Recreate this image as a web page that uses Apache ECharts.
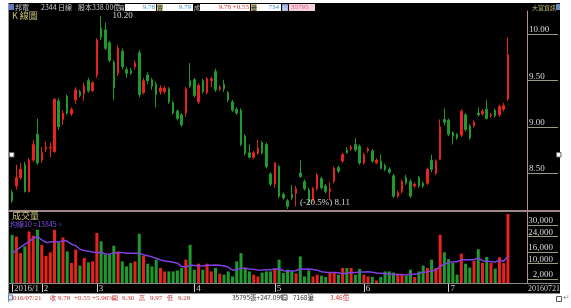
<!DOCTYPE html>
<html><head><meta charset="utf-8">
<script src="https://cdn.jsdelivr.net/npm/echarts@6/dist/echarts.min.js"></script>
<style>html,body{margin:0;padding:0;background:#fff}#c{width:571px;height:308px}</style>
</head><body><div id="c"></div>
<script>
// ---- data ----
const tradeDays = {
  '2016/01': [21,22,25,26,27,28,29],
  '2016/02': [1,2,3,15,16,17,18,19,22,23,24,25,26],
  '2016/03': [1,2,3,4,7,8,9,10,11,14,15,16,17,18,21,22,23,24,25,28,29,30,31],
  '2016/04': [1,6,7,8,11,12,13,14,15,18,19,20,21,22,25,26,27,28,29],
  '2016/05': [3,4,5,6,9,10,11,12,13,16,17,18,19,20,23,24,25,26,27,30,31],
  '2016/06': [1,2,3,6,7,8,13,14,15,16,17,20,21,22,23,24,27,28,29,30],
  '2016/07': [1,4,5,6,7,8,11,12,13,14,15,18,19,20,21]
};
const opens = [8.29,8.36,8.45,8.59,8.30,8.64,8.92,8.64,8.76,8.77,
8.73,9.28,9.08,9.33,9.14,9.29,9.38,9.36,9.50,9.39,
9.56,10.07,10.05,9.91,9.70,9.58,9.82,9.62,9.61,9.65,
9.80,9.37,9.56,9.51,9.46,9.38,9.38,9.41,9.26,9.17,
9.13,9.15,9.50,9.51,9.27,9.50,9.37,9.50,9.60,9.41,
9.46,9.37,9.27,9.19,9.18,8.90,8.72,8.67,8.71,8.83,
8.81,8.49,8.38,8.57,8.27,8.20,8.27,8.28,8.50,8.41,
8.32,8.21,8.33,8.44,8.36,8.30,8.41,8.56,8.63,8.75,
8.76,8.81,8.79,8.61,8.74,8.74,8.61,8.63,8.58,8.54,
8.47,8.25,8.30,8.45,8.41,8.36,8.45,8.39,8.39,8.64,
8.50,8.65,9.08,9.07,8.94,8.92,8.91,9.13,9.01,9.01,
9.15,9.14,9.19,9.12,9.18,9.13,9.19,9.30];
const closes = [8.20,8.45,8.54,8.30,8.64,8.81,8.61,8.72,8.78,8.78,
9.30,9.00,9.15,9.15,9.19,9.40,9.34,9.44,9.39,9.48,
9.94,9.97,9.85,9.72,9.42,9.85,9.65,9.58,9.58,9.69,
9.35,9.50,9.50,9.44,9.35,9.42,9.42,9.27,9.15,9.09,
9.02,9.41,9.44,9.34,9.45,9.38,9.52,9.52,9.40,9.43,
9.41,9.29,9.18,9.15,8.81,8.71,8.67,8.72,8.77,8.72,
8.57,8.38,8.61,8.25,8.23,8.14,8.23,8.33,8.46,8.33,
8.19,8.33,8.48,8.34,8.30,8.33,8.55,8.52,8.70,8.72,
8.78,8.75,8.61,8.70,8.76,8.63,8.64,8.55,8.54,8.51,
8.25,8.29,8.41,8.39,8.25,8.38,8.36,8.36,8.54,8.54,
8.63,9.00,9.05,8.92,8.90,8.88,9.17,8.97,8.88,9.05,
9.13,9.17,9.09,9.13,9.12,9.22,9.23,9.78];
const lows = [8.18,8.32,8.43,8.29,8.29,8.62,8.59,8.61,8.73,8.67,
8.72,8.97,9.02,9.13,9.12,9.25,9.32,9.28,9.37,9.38,
9.53,9.94,9.83,9.70,9.29,9.55,9.62,9.53,9.56,9.62,
9.32,9.35,9.46,9.40,9.21,9.35,9.36,9.25,9.13,9.07,
9.00,9.11,9.42,9.32,9.25,9.36,9.35,9.43,9.38,9.39,
9.38,9.27,9.16,9.13,8.79,8.69,8.66,8.65,8.70,8.70,
8.55,8.36,8.34,8.23,8.21,8.11,8.21,8.14,8.45,8.31,
8.17,8.19,8.31,8.32,8.28,8.21,8.39,8.50,8.61,8.71,
8.74,8.73,8.59,8.59,8.72,8.61,8.60,8.54,8.52,8.49,
8.23,8.23,8.28,8.37,8.23,8.34,8.34,8.34,8.37,8.51,
8.48,8.64,9.02,8.90,8.81,8.86,8.89,8.95,8.86,8.99,
9.11,9.12,9.08,9.10,9.10,9.11,9.17,9.28];
const highs = [8.32,8.59,8.61,8.62,8.66,8.86,9.09,8.78,8.84,8.83,
9.31,9.31,9.18,9.35,9.21,9.43,9.40,9.48,9.53,9.49,
9.96,10.20,10.13,9.93,9.72,9.88,9.85,9.65,9.64,9.72,
9.83,9.53,9.59,9.53,9.49,9.45,9.44,9.43,9.28,9.19,
9.15,9.43,9.69,9.53,9.47,9.52,9.54,9.54,9.63,9.45,
9.51,9.39,9.29,9.21,9.20,8.92,8.81,8.74,8.86,8.85,
8.83,8.51,8.62,8.59,8.29,8.22,8.37,8.36,8.64,8.43,
8.34,8.35,8.50,8.46,8.38,8.40,8.57,8.58,8.72,8.78,
8.80,8.88,8.81,8.72,8.78,8.76,8.66,8.70,8.60,8.56,
8.49,8.31,8.43,8.48,8.43,8.40,8.47,8.41,8.56,8.70,
8.65,9.08,9.20,9.09,8.95,8.93,9.19,9.15,9.03,9.07,
9.21,9.19,9.29,9.15,9.20,9.24,9.26,9.97];
const volumes = [25000,24100,15500,19000,26700,24500,27600,19800,14100,15900,
27600,21000,23600,16400,10400,17300,9000,13000,10700,11200,
25900,21600,14700,14700,19300,16400,11200,8600,10400,11200,
25500,14100,10000,8600,12100,7800,6000,6000,6000,6500,
7800,12100,19800,6900,10000,6900,10000,6000,7800,4800,
4300,6000,3400,11200,15500,7800,6000,4300,3400,5400,
6000,6000,7300,12100,5200,6900,6000,5000,13800,3400,
6500,3400,4300,3800,3100,5400,5400,4300,7800,7800,
7800,4300,7300,4300,3400,3100,1300,3100,6000,6000,
5400,4800,4800,3800,6900,3100,6000,9000,7800,12100,
7800,25000,15900,12400,10400,4300,15200,10000,8000,11500,
17500,10500,13500,10500,7500,13340,10313,35795];
// MA10 values for the first 9 days (earlier days are off-chart)
const ma10Lead = [15500,16900,18600,20000,21500,23300,24000,22400,21000];
const priceTicks = [8.5, 9.0, 9.5, 10.0];
const volTicks = [2000, 10000, 16000, 24000, 30000];
const stock = {name:'邦電', code:'2344', capital:'股本338.00億', bid:'9.78', ask:'9.79', lastVol:'734', trades:'7168筆', turnover:'3.46億'};

// ---- derived ----
const dates = [];
Object.keys(tradeDays).forEach(m => tradeDays[m].forEach(d => dates.push(m + '/' + String(d).padStart(2,'0'))));
const axisCats = dates.concat(['', '', '', '']);
const monthStart = {};
dates.forEach((d, i) => {
  const m = d.slice(0, 7);
  if (i === 0) monthStart[i] = d.slice(0,4) + '/' + Number(d.slice(5,7));
  else if (dates[i-1].slice(0,7) !== m) monthStart[i] = String(Number(d.slice(5,7)));
});
const RED = '#e8221c', GREEN = '#1f9a2c';
const kData = opens.map((o, i) => [o, closes[i], lows[i], highs[i]]);
const volData = volumes.map((v, i) => ({value: v, itemStyle: {color: closes[i] >= opens[i] ? RED : GREEN}}));
const ma10 = volumes.map((v, i) => i < 9 ? ma10Lead[i] : volumes.slice(i-9, i+1).reduce((a,b)=>a+b,0)/10);
const n = dates.length - 1;
const maxHigh = Math.max(...highs), minLow = Math.min(...lows);
const chg = closes[n] - closes[n-1];
const pct = chg / closes[n-1] * 100;
const volPct = (volumes[n] / volumes[n-1] - 1) * 100;
const lastDate = dates[n];

const SERIF = '"Liberation Serif", "DejaVu Serif", serif';
const CJK = '"Noto Sans CJK TC", "Noto Sans", sans-serif';
function T(x, y, text, fill, size, opts) {
  return {type:'text', z:100, style: Object.assign({x, y, text, fill, font: (size||7) + 'px ' + CJK, verticalAlign:'middle', align:'left'}, opts||{})};
}
function N(x, y, text, fill, size, opts) {
  return T(x, y, text, fill, size, Object.assign({font: (size||7) + 'px ' + SERIF}, opts||{}));
}
function R(x, y, w, h, fill, stroke) {
  return {type:'rect', z:99, shape:{x, y, width:w, height:h}, style:{fill, stroke: stroke || null, lineWidth: stroke ? 1 : 0}};
}
const HY = 7.5, BY = 298;
const graphics = [
  {type:'rect', z:-10, shape:{x:8, y:3, width:552, height:291}, style:{fill:'#000'}},
  {type:'line', z:50, shape:{x1:8, y1:211, x2:560, y2:211}, style:{stroke:'#a08888', lineWidth:2}},
  {type:'line', z:50, shape:{x1:8, y1:283.5, x2:560, y2:283.5}, style:{stroke:'#8a8a8a', lineWidth:1}},
  {type:'line', z:50, shape:{x1:8, y1:293.5, x2:560, y2:293.5}, style:{stroke:'#8a8a8a', lineWidth:1}},
  {type:'line', z:50, shape:{x1:8.5, y1:3, x2:8.5, y2:302}, style:{stroke:'#999', lineWidth:1}},
  // header
  R(9, 4, 5, 6, '#5a78c8'),
  T(15, HY, stock.name, '#c8c8c8'),
  T(41, HY, stock.code + ' 日線', '#c8c8c8'),
  T(78, HY, stock.capital, '#c8c8c8'),
  T(119, HY, '買', '#d8d8d8', 6),
  R(125, 4, 31, 7, '#fff'), N(155, HY, stock.bid, '#3b8fd6', 7, {align:'right'}),
  R(157, 4, 6, 7, '#c8c27a'), T(157, HY, '賣', '#222', 6),
  R(163, 4, 30, 7, '#fff'), N(191, HY, stock.ask, '#3b8fd6', 7, {align:'right'}),
  T(194, HY, '成', '#c8c8c8', 6),
  R(200, 4, 50, 7, '#fff'), N(249, HY, closes[n].toFixed(2) + ' +' + chg.toFixed(2), '#e03030', 7, {align:'right'}),
  R(251, 4, 6, 7, '#c8c27a'), T(251, HY, '量', '#222', 6),
  R(257, 4, 24, 7, '#fff'), N(279, HY, stock.lastVol, '#3b8fd6', 7, {align:'right'}),
  R(282, 4, 6, 7, '#6a88c8'), T(282, HY, '總', '#fff', 6),
  R(289, 4, 26, 7, '#f3d0dc'), N(291, HY, String(volumes[n]), '#e0608a', 7),
  T(532, HY, '大富資訊', '#c8c27a', 6),
  R(556, 4, 4, 6, '#6a88c8'),
  T(12, 15.5, 'K 線圖', '#c8c27a', 9),
  T(12, 216, '成交量', '#c8c27a', 9),
  T(10, 224.5, '均線10 =' + Math.round(ma10[n]) + '。', '#7f4fe8', 7),
  N(528, 288.5, lastDate.replace(/\//g, ''), '#cfcfcf', 8),
  // bottom bar
  R(8.5, 295, 4, 5, '#d8e6f4', '#6080b0'),
  N(13, BY, lastDate.slice(1), '#c83030'),
  T(50, BY, '收', '#c83030', 6),
  N(58, BY, closes[n].toFixed(2), '#c83030'),
  N(74, BY, '+' + chg.toFixed(2), '#c83030'),
  N(92, BY, '+' + pct.toFixed(2) + '%', '#c83030'),
  T(112, BY, '開', '#c83030', 6),
  N(122, BY, opens[n].toFixed(2), '#c83030'),
  T(139, BY, '高', '#c83030', 6),
  N(150, BY, highs[n].toFixed(2), '#c83030'),
  T(167, BY, '低', '#c83030', 6),
  N(178, BY, lows[n].toFixed(2), '#c83030'),
  T(232, BY, volumes[n] + '張+' + volPct.toFixed(2) + '%', '#333', 6.5),
  R(282, 295, 5, 5, '#fff', '#555'),
  T(293, BY, stock.trades, '#333', 6.5),
  T(330, BY, stock.turnover, '#c83030', 6.5),
  R(556.5, 296.5, 5, 5, '#fff', '#555'),
  T(563, 297, '↵', '#888', 8),
  // image handles
  R(9.5, 152.5, 4.5, 4.5, '#fff', '#666'),
  R(556.5, 152.5, 4.5, 4.5, '#fff', '#666')
];

const option = {
  animation: false,
  backgroundColor: '#fff',
  textStyle: {fontFamily: SERIF},
  grid: [
    {left: 10, top: 11, width: 517, height: 199},
    {left: 10, top: 212, width: 517, height: 71}
  ],
  xAxis: [
    {type:'category', gridIndex:0, data: axisCats, boundaryGap: true,
     axisLine:{show:false}, axisTick:{show:false}, axisLabel:{show:false}, splitLine:{show:false}},
    {type:'category', gridIndex:1, data: axisCats, boundaryGap: true,
     axisLine:{show:true, lineStyle:{color:'#8a8a8a'}},
     axisTick:{show:true, alignWithLabel:true, length:9, interval:(i) => monthStart[i] !== undefined, lineStyle:{color:'#cfcfcf'}},
     axisLabel:{show:true, interval:(i) => monthStart[i] !== undefined, formatter:(v, i) => monthStart[i] || '',
       align:'left', margin:1, padding:[0,0,0,2], color:'#cfcfcf', fontSize:9, fontFamily: SERIF},
     splitLine:{show:false}}
  ],
  yAxis: [
    {type:'value', gridIndex:0, position:'right', min:8.10, max:10.254, scale:true,
     axisLine:{show:true, lineStyle:{color:'#b88c8c'}},
     axisTick:{show:true, customValues: priceTicks, length:31, lineStyle:{color:'#9a9a86'}},
     axisLabel:{show:true, customValues: priceTicks, margin:2, verticalAlign:'bottom', formatter:v => v.toFixed(2),
       color:'#d8d8d8', fontSize:9, fontFamily: SERIF},
     splitLine:{show:false}},
    {type:'value', gridIndex:1, position:'right', min:0, max:36800,
     axisLine:{show:true, lineStyle:{color:'#b88c8c'}},
     axisTick:{show:true, customValues: volTicks, length:31, lineStyle:{color:'#9a9a86'}},
     axisLabel:{show:true, customValues: volTicks, margin:26, align:'right', verticalAlign:'bottom',
       color:'#d8d8d8', fontSize:9, fontFamily: SERIF},
     splitLine:{show:false}}
  ],
  series: [
    {type:'candlestick', xAxisIndex:0, yAxisIndex:0, data:kData, barWidth:2,
     itemStyle:{color:RED, color0:GREEN, borderColor:RED, borderColor0:GREEN, borderWidth:1},
     markPoint:{
       symbol:'circle', symbolSize:1, itemStyle:{color:'rgba(0,0,0,0)'},
       label:{show:true, position:'right', color:'#d8d8d8', fontSize:9, fontFamily: SERIF},
       data:[
         {type:'max', valueDim:'highest', label:{distance:11, offset:[0,0], formatter: () => maxHigh.toFixed(2)}},
         {type:'min', valueDim:'lowest', label:{distance:12, offset:[0,-6],
           formatter: () => '(' + ((minLow - maxHigh) / maxHigh * 100).toFixed(1) + '%) ' + minLow.toFixed(2)}}
       ]
     }},
    {type:'bar', xAxisIndex:1, yAxisIndex:1, data:volData, barWidth:3},
    {type:'line', xAxisIndex:1, yAxisIndex:1, data:ma10, symbol:'none', z:5,
     lineStyle:{color:'#8040e0', width:1.5}}
  ],
  graphic: {elements: graphics}
};
const chart = echarts.init(document.getElementById('c'), null, {renderer:'canvas'});
chart.setOption(option);
</script></body></html>
